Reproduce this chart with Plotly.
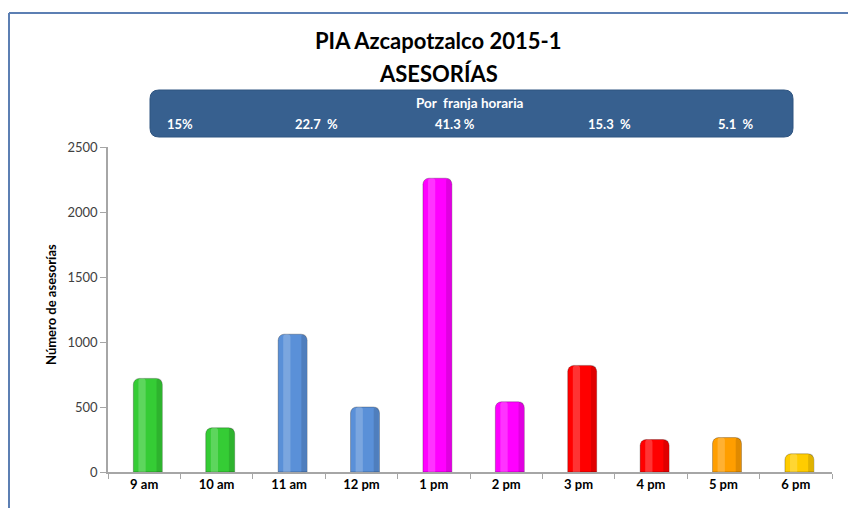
import plotly.graph_objects as go

# ---- data ----
categories = ["9 am", "10 am", "11 am", "12 pm", "1 pm", "2 pm", "3 pm", "4 pm", "5 pm", "6 pm"]
asesorias = [720, 340, 1060, 500, 2260, 540, 820, 250, 265, 140]
bar_colors = ["#35CC35", "#35CC35", "#5A90D8", "#5A90D8", "#FF00FF",
              "#FF00FF", "#FF0000", "#FF0000", "#FF9E00", "#FFCC00"]
band_title = "Por  franja horaria"
band_labels = ["15%", "22.7  %", "41.3 %", "15.3  %", "5.1  %"]
y_ticks = [0, 500, 1000, 1500, 2000, 2500]

# page offset (default body margin) so screen pixels can be used below
OX, OY = 8, 8
W, H = 856 - OX, 508 - OY
PL, PR, PT, PB = 108, 832, 147, 472          # plot area in screen pixels
L, R, T, B = PL - OX, W - (PR - OX), PT - OY, H - (PB - OY)
PW, PH = PR - PL, PB - PT

def px(x):
    return (x - PL) / PW

def py(y):
    return (PB - y) / PH

FONT = "Lato"
BW = 0.4
BOFF = -0.15   # bars sit slightly right of the category centre (3-D depth look)

fig = go.Figure()
fig.add_trace(go.Bar(
    x=categories, y=asesorias, width=BW, offset=BOFF,
    marker=dict(color=bar_colors, line=dict(color="rgba(0,0,0,0.25)", width=1),
                cornerradius=6),
    hoverinfo="x+y", showlegend=False,
))
# cylinder shading overlays (same values, style only)
fig.add_trace(go.Bar(
    x=categories, y=asesorias, width=0.1, offset=BOFF + 0.07,
    marker=dict(color="rgba(255,255,255,0.2)", line=dict(width=0), cornerradius=3),
    hoverinfo="skip", showlegend=False,
))
fig.add_trace(go.Bar(
    x=categories, y=asesorias, width=0.07, offset=BOFF + 0.32,
    marker=dict(color="rgba(0,0,0,0.12)", line=dict(width=0), cornerradius=3),
    hoverinfo="skip", showlegend=False,
))

# rounded blue band
x0, x1 = px(150), px(793)
y0, y1 = py(137), py(90)
rx, ry = 9 / PW, 9 / PH
path = (f"M {x0+rx},{y1} L {x1-rx},{y1} Q {x1},{y1} {x1},{y1-ry} "
        f"L {x1},{y0+ry} Q {x1},{y0} {x1-rx},{y0} L {x0+rx},{y0} "
        f"Q {x0},{y0} {x0},{y0+ry} L {x0},{y1-ry} Q {x0},{y1} {x0+rx},{y1} Z")
shapes = [
    dict(type="path", path=path, xref="paper", yref="paper",
         fillcolor="#37608F", line=dict(color="#2E5480", width=1), layer="above"),
    # chart border (top and left)
    dict(type="line", xref="paper", yref="paper", x0=px(9), x1=px(900), y0=py(13), y1=py(13),
         line=dict(color="#5C7FB3", width=2)),
    dict(type="line", xref="paper", yref="paper", x0=px(9), x1=px(9), y0=py(13), y1=py(520),
         line=dict(color="#5C7FB3", width=2)),
]

annotations = [
    dict(text="<b>PIA Azcapotzalco 2015-1</b>", x=px(438), y=py(40), xref="paper", yref="paper",
         showarrow=False, font=dict(family=FONT, size=22, color="#000000"), xanchor="center", yanchor="middle"),
    dict(text="<b>ASESORÍAS</b>", x=px(438), y=py(73), xref="paper", yref="paper",
         showarrow=False, font=dict(family=FONT, size=22, color="#000000"), xanchor="center", yanchor="middle"),
    dict(text=f"<b>{band_title}</b>", x=px(470), y=py(103), xref="paper", yref="paper",
         showarrow=False, font=dict(family=FONT, size=13.5, color="white"), xanchor="center", yanchor="middle"),
    dict(text="<b>Número de asesorías</b>", x=px(51), y=py(305), xref="paper", yref="paper",
         showarrow=False, textangle=-90, font=dict(family=FONT, size=13, color="#000000"),
         xanchor="center", yanchor="middle"),
]
band_x = [165, 293, 433, 586, 716]
for lab, xs in zip(band_labels, band_x):
    annotations.append(dict(text=f"<b>{lab}</b>", x=px(xs), y=py(124), xref="paper", yref="paper",
                            showarrow=False, font=dict(family=FONT, size=13, color="white"),
                            xanchor="left", yanchor="middle"))

fig.update_layout(
    width=W, height=H,
    margin=dict(l=L, r=R, t=T, b=B),
    paper_bgcolor="white", plot_bgcolor="white",
    font=dict(family=FONT),
    shapes=shapes, annotations=annotations,
    barmode="overlay",
    xaxis=dict(showline=True, linecolor="#A6A6A6", linewidth=1.5, ticks="outside",
               tickson="boundaries", ticklen=5, tickcolor="#A6A6A6",
               tickfont=dict(family=FONT, size=13, color="#000000", weight="bold"),
               showgrid=False, zeroline=False, fixedrange=True),
    yaxis=dict(range=[0, 2500], tickvals=y_ticks, showline=True, linecolor="#A6A6A6", linewidth=1.5,
               ticks="outside", ticklen=6, tickcolor="#A6A6A6",
               tickfont=dict(family=FONT, size=13, color="#404040"),
               showgrid=False, zeroline=False, fixedrange=True),
)

fig.write_html("out.html")
